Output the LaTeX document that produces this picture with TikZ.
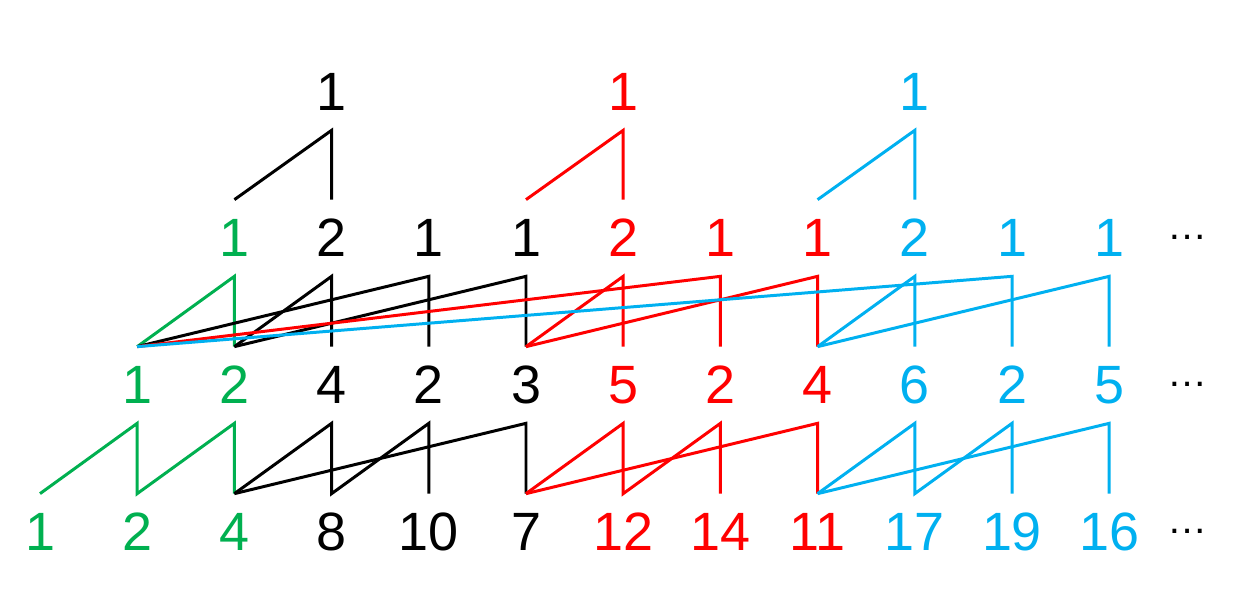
\documentclass[tikz,border=0pt]{standalone}
\usepackage{fontspec}
\setmainfont{Liberation Sans}
\definecolor{grn}{RGB}{0,176,80}
\definecolor{blu}{RGB}{0,176,240}

\begin{document}
\begin{tikzpicture}[x=0.02cm,y=-0.02cm]
	\tikzstyle{every node} = [inner sep=0pt,minimum height=1.52cm,font=\fontsize{30.7}{36}\selectfont];
	\tikzstyle{link} = [line width=1.7pt,line join=miter];
	\tikzstyle{more} = [minimum height=0pt,anchor=base,font=\fontsize{22.8}{26}\selectfont];
	\useasboundingbox (0,0) rectangle (1242,590);
	% first row
	\node (a4) at (331.6, 92) {1};
	\node[red] (a7) at (623.2, 92) {1};
	\node[blu] (a10) at (914.8, 92) {1};
	% second row
	\node[grn] (b3) at (234.4, 238) {1};
	\node (b4) at (331.6, 238) {2};
	\node (b5) at (428.8, 238) {1};
	\node (b6) at (526.0, 238) {1};
	\node[red] (b7) at (623.2, 238) {2};
	\node[red] (b8) at (720.4, 238) {1};
	\node[red] (b9) at (817.6, 238) {1};
	\node[blu] (b10) at (914.8, 238) {2};
	\node[blu] (b11) at (1012.0, 238) {1};
	\node[blu] (b12) at (1109.2, 238) {1};
	\node[more] (e1) at (1188, 240) {…};
	% third row
	\node[grn] (c2) at (137.2, 385) {1};
	\node[grn] (c3) at (234.4, 385) {2};
	\node (c4) at (331.6, 385) {4};
	\node (c5) at (428.8, 385) {2};
	\node (c6) at (526.0, 385) {3};
	\node[red] (c7) at (623.2, 385) {5};
	\node[red] (c8) at (720.4, 385) {2};
	\node[red] (c9) at (817.6, 385) {4};
	\node[blu] (c10) at (914.8, 385) {6};
	\node[blu] (c11) at (1012.0, 385) {2};
	\node[blu] (c12) at (1109.2, 385) {5};
	\node[more] (e2) at (1188, 387) {…};
	% fourth row
	\node[grn] (d1) at (40.0, 532) {1};
	\node[grn] (d2) at (137.2, 532) {2};
	\node[grn] (d3) at (234.4, 532) {4};
	\node (d4) at (331.6, 532) {8};
	\node (d5) at (428.8, 532) {10};
	\node (d6) at (526.0, 532) {7};
	\node[red] (d7) at (623.2, 532) {12};
	\node[red] (d8) at (720.4, 532) {14};
	\node[red] (d9) at (817.6, 532) {11};
	\node[blu] (d10) at (914.8, 532) {17};
	\node[blu] (d11) at (1012.0, 532) {19};
	\node[blu] (d12) at (1109.2, 532) {16};
	\node[more] (e3) at (1188, 534) {…};
	% first to second row
	\draw[link] (b3.north) -- (a4.south) -- (b4.north);
	\draw[link,red] (b6.north) -- (a7.south) -- (b7.north);
	\draw[link,blu] (b9.north) -- (a10.south) -- (b10.north);
	% second to third row
	\draw[link,grn] (c2.north) -- (b3.south) -- (c3.north);
	\draw[link] (c3.north) -- (b4.south) -- (c4.north);
	\draw[link] (c2.north) -- (b5.south) -- (c5.north);
	\draw[link] (c3.north) -- (b6.south) -- (c6.north);
	\draw[link,red] (c6.north) -- (b7.south) -- (c7.north);
	\draw[link,red] (c2.north) -- (b8.south) -- (c8.north);
	\draw[link,red] (c6.north) -- (b9.south) -- (c9.north);
	\draw[link,blu] (c9.north) -- (b10.south) -- (c10.north);
	\draw[link,blu] (c2.north) -- (b11.south) -- (c11.north);
	\draw[link,blu] (c9.north) -- (b12.south) -- (c12.north);
	% third to fourth row
	\draw[link,grn] (d1.north) -- (c2.south) -- (d2.north) -- (c3.south) -- (d3.north);
	\draw[link] (d3.north) -- (c4.south) -- (d4.north) -- (c5.south) -- (d5.north);
	\draw[link] (d3.north) -- (c6.south) -- (d6.north);
	\draw[link,red] (d6.north) -- (c7.south) -- (d7.north) -- (c8.south) -- (d8.north);
	\draw[link,red] (d6.north) -- (c9.south) -- (d9.north);
	\draw[link,blu] (d9.north) -- (c10.south) -- (d10.north) -- (c11.south) -- (d11.north);
	\draw[link,blu] (d9.north) -- (c12.south) -- (d12.north);
\end{tikzpicture}
\end{document}
